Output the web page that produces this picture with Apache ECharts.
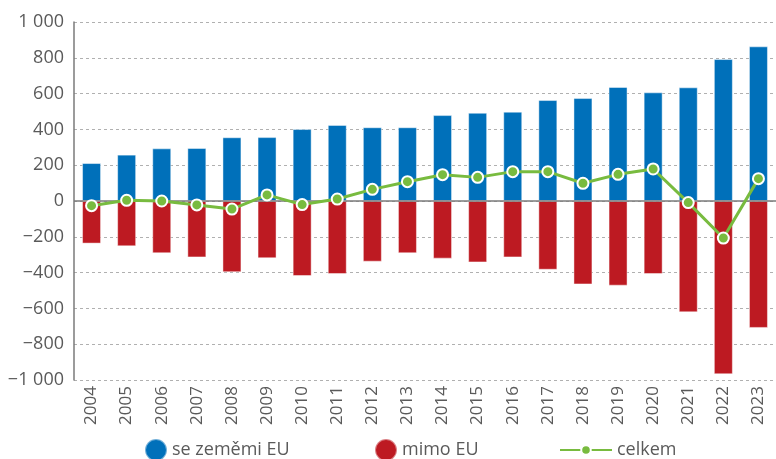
<!DOCTYPE html>
<html>
<head>
<meta charset="utf-8">
<script src="https://cdn.jsdelivr.net/npm/echarts@6/dist/echarts.min.js"></script>
<style>
  html, body { margin: 0; padding: 0; background: #fff; }
  #main { width: 776px; height: 459px; }
</style>
</head>
<body>
<div id="main"></div>
<script>
const years = ['2004', '2005', '2006', '2007', '2008', '2009', '2010', '2011', '2012', '2013',
  '2014', '2015', '2016', '2017', '2018', '2019', '2020', '2021', '2022', '2023']
// obchod se zeměmi EU
const euValues = [212, 259, 294, 296, 356, 357, 402, 425, 412, 412,
  480, 493, 499, 564, 575, 637, 607, 635, 793, 864]
// mimo EU
const nonEuValues = [-238, -253, -292, -315, -398, -320, -419, -408, -339, -292,
  -322, -343, -315, -384, -466, -473, -408, -622, -968, -709]
// celkem
const totalValues = [-26, 4, 0, -22, -45, 34, -20, 11, 65, 108,
  147, 132, 164, 164, 99, 149, 179, -9, -207, 125]
const yTicks = { min: -1000, max: 1000, step: 200 }

const font = 'Open Sans'
const textColor = '#5a5a5a'

const fmt = (v) => {
  const abs = Math.abs(v)
  const s = abs >= 1000 ? String(abs).replace(/\B(?=(\d{3})+(?!\d))/g, ' ') : String(abs)
  return v < 0 ? '\u2212' + s : s
}

const legendBase = {
  textStyle: { fontFamily: font, fontSize: 18, color: textColor },
  itemGap: 8,
  selectedMode: false,
}

const chart = echarts.init(document.getElementById('main'))
chart.setOption({
  animation: false,
  grid: { left: 74, right: -7, top: 22, bottom: 79 },
  legend: [
    { ...legendBase, top: 433, left: 139, data: ['se zeměmi EU'], icon: 'circle', itemWidth: 22, itemHeight: 22 },
    { ...legendBase, top: 433, left: 369, data: ['mimo EU'], icon: 'circle', itemWidth: 22, itemHeight: 22 },
    { ...legendBase, top: 436, left: 554, data: ['celkem'], itemWidth: 52, itemHeight: 12 },
  ],
  xAxis: {
    type: 'category',
    data: years,
    axisLine: { show: false, onZero: false },
    axisTick: { show: false },
    axisLabel: {
      rotate: 90,
      margin: 6,
      fontFamily: font,
      fontSize: 17,
      color: textColor,
    },
  },
  yAxis: {
    type: 'value',
    min: yTicks.min,
    max: yTicks.max,
    interval: yTicks.step,
    axisLine: { show: true, lineStyle: { color: '#7a7a7a', width: 1.5 } },
    axisTick: { show: false },
    axisLabel: {
      margin: 10,
      fontFamily: font,
      fontSize: 18,
      color: textColor,
      formatter: fmt,
    },
    splitLine: { lineStyle: { color: '#b0b0b0', type: [3, 3], width: 1 } },
  },
  series: [
    {
      name: 'se zeměmi EU',
      type: 'bar',
      stack: 'obchod',
      data: euValues,
      barWidth: 19,
      itemStyle: { color: '#0070ba', borderColor: 'rgba(255,255,255,0.45)', borderWidth: 1 },
      markLine: {
        silent: true,
        symbol: 'none',
        label: { show: false },
        lineStyle: { color: '#7a7a7a', type: 'solid', width: 1.5 },
        data: [{ yAxis: 0 }],
      },
    },
    {
      name: 'mimo EU',
      type: 'bar',
      stack: 'obchod',
      data: nonEuValues,
      barWidth: 19,
      itemStyle: { color: '#bd1a22', borderColor: 'rgba(255,255,255,0.45)', borderWidth: 1 },
    },
    {
      name: 'celkem',
      type: 'line',
      data: totalValues,
      z: 5,
      symbol: 'circle',
      symbolSize: 11,
      lineStyle: { color: '#78bb3f', width: 3 },
      itemStyle: { color: '#78bb3f', borderColor: '#fff', borderWidth: 2 },
    },
  ],
})
</script>
</body>
</html>
